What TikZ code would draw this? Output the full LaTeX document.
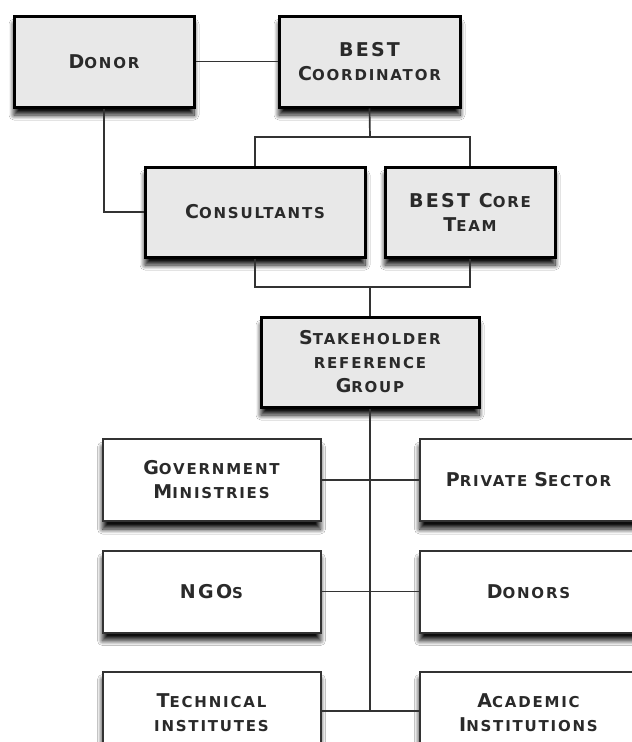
\documentclass[tikz,border=0pt]{standalone}
\usepackage{fontspec}
\newfontfamily\lblfont[LetterSpace=12]{DejaVu Sans}
\usetikzlibrary{shadows.blur}
\newcommand\Bg[1]{{\fontsize{19}{24}\selectfont #1}}
\newcommand\Sm[1]{{\fontsize{15}{24}\selectfont #1}}
\definecolor{boxgrey}{HTML}{E8E8E8}
\definecolor{txt}{HTML}{2A2A2A}
\tikzset{
  x=1pt, y=-1pt,
  base/.style={rectangle, align=center, inner sep=0pt, text=txt,
    font=\lblfont\bfseries\fontsize{15}{24}\selectfont,
    blur shadow={shadow xshift=0pt, shadow yshift=-8pt, shadow blur radius=5pt, shadow opacity=95, shadow blur steps=10}},
  greybox/.style={base, fill=boxgrey, draw=black, line width=3pt},
  whitebox/.style={base, fill=white, draw=black!80, line width=2pt, minimum width=218pt, minimum height=82pt},
  conn/.style={draw=black!80, line width=1.7pt}
}
\begin{document}
\begin{tikzpicture}
\useasboundingbox (0,0) rectangle (632,742);
\clip (0,0) rectangle (632,742);
\fill[white] (0,0) rectangle (632,742);
% top grey boxes
\node[greybox, minimum width=180pt, minimum height=91pt] (donor) at (104,61.5) {\Bg{D}\Sm{ONOR}};
\node[greybox, minimum width=181pt, minimum height=91pt] (coord) at (369.5,61.5) {\Bg{BEST}\\\Bg{C}\Sm{OORDINATOR}};
\node[greybox, minimum width=220pt, minimum height=90pt] (cons) at (255,212) {\Bg{C}\Sm{ONSULTANTS}};
\node[greybox, minimum width=170pt, minimum height=90pt] (core) at (470,212) {\Bg{BEST C}\Sm{ORE}\\\Bg{T}\Sm{EAM}};
\node[greybox, minimum width=218pt, minimum height=90pt] (stake) at (370,362) {\Bg{S}\Sm{TAKEHOLDER}\\\Sm{REFERENCE}\\\Bg{G}\Sm{ROUP}};
% white boxes
\node[whitebox] (gov) at (211.5,480) {\Bg{G}\Sm{OVERNMENT}\\\Bg{M}\Sm{INISTRIES}};
\node[whitebox] (priv) at (528.5,480) {\Bg{P}\Sm{RIVATE} \Bg{S}\Sm{ECTOR}};
\node[whitebox] (ngo) at (211.5,591.5) {\Bg{NGO}\Sm{S}};
\node[whitebox] (dons) at (528.5,591.5) {\Bg{D}\Sm{ONORS}};
\node[whitebox] (tech) at (211.5,712.5) {\Bg{T}\Sm{ECHNICAL}\\\Sm{INSTITUTES}};
\node[whitebox] (acad) at (528.5,712.5) {\Bg{A}\Sm{CADEMIC}\\\Bg{I}\Sm{NSTITUTIONS}};
% bus coordinates
\coordinate (bus1) at (370,137);
\coordinate (bus2) at (370,287);
\coordinate (end) at (370,711);
% connectors
\draw[conn] (donor.east) -- (coord.west);
\draw[conn] (donor.south) |- (cons.west);
\draw[conn] (coord.south) -- (bus1);
\draw[conn] (cons.north) |- (bus1) -| (core.north);
\draw[conn] (cons.south) |- (bus2) -| (core.south);
\draw[conn] (bus2) -- (stake.north);
\draw[conn] (stake.south) -- (end);
\draw[conn] (gov.east) -- (priv.west);
\draw[conn] (ngo.east) -- (dons.west);
\draw[conn] (tech.east |- end) -- (acad.west |- end);
\end{tikzpicture}
\end{document}
